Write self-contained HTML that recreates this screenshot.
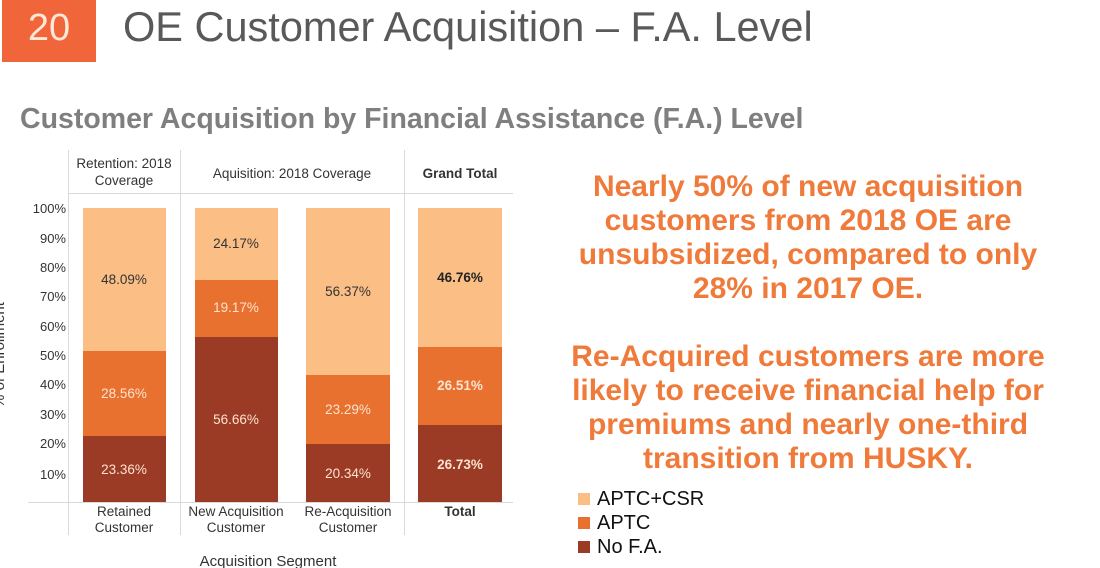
<!DOCTYPE html>
<html><head><meta charset="utf-8"><style>
body{margin:0;width:1100px;height:568px;background:#fff;position:relative;overflow:hidden;font-family:"Liberation Sans",sans-serif}
.a{position:absolute}
.rt{color:#f07a3a;font-weight:bold;font-size:30px;text-align:center;line-height:34px;left:558px;width:500px;white-space:nowrap}
</style></head><body>
<div class="a" style="left:2px;top:0;width:94px;height:62px;background:#f0653a;color:#fde8d8;font-size:38px;line-height:56px;text-align:center">20</div>
<div class="a" style="left:123px;top:2px;font-size:41.5px;color:#595959;line-height:50px">OE Customer Acquisition – F.A. Level</div>
<div class="a" style="left:20px;top:103px;font-size:28.5px;font-weight:bold;color:#7f7f7f">Customer Acquisition by Financial Assistance (F.A.) Level</div>
<svg class="a" style="left:0;top:0" width="560" height="568" font-family="Liberation Sans, sans-serif">
<g stroke="#d9d9d9" stroke-width="1">
<line x1="68.5" y1="150" x2="68.5" y2="535"/><line x1="180.5" y1="150" x2="180.5" y2="535"/><line x1="404.5" y1="150" x2="404.5" y2="535"/>
<line x1="68" y1="193.5" x2="513" y2="193.5"/><line x1="28" y1="502.5" x2="513" y2="502.5"/>
</g>
<g font-size="13.5" fill="#333" text-anchor="middle">
<text x="124" y="168">Retention: 2018</text><text x="124" y="185">Coverage</text>
<text x="292" y="178">Aquisition: 2018 Coverage</text>
<text x="460" y="178" font-weight="bold">Grand Total</text>
<text x="124" y="516">Retained</text><text x="124" y="532">Customer</text>
<text x="236" y="516">New Acquisition</text><text x="236" y="532">Customer</text>
<text x="348" y="516">Re-Acquisition</text><text x="348" y="532">Customer</text>
<text x="460" y="516" font-weight="bold">Total</text>
<text x="268" y="566" font-size="15">Acquisition Segment</text>
</g>
<g font-size="13" fill="#333" text-anchor="end">
<text x="66" y="213">100%</text><text x="66" y="243">90%</text><text x="66" y="272">80%</text><text x="66" y="301">70%</text><text x="66" y="331">60%</text><text x="66" y="360">50%</text><text x="66" y="389">40%</text><text x="66" y="419">30%</text><text x="66" y="448">20%</text><text x="66" y="479">10%</text>
</g>
<text transform="translate(4,355) rotate(-90)" font-size="15" fill="#333" text-anchor="middle">% of Enrollment</text>
<g>
<rect x="83" y="208" width="83" height="143" fill="#fbbf86"/><rect x="83" y="351" width="83" height="85" fill="#e8712f"/><rect x="83" y="436" width="83" height="66" fill="#9b3a25"/>
<rect x="195" y="208" width="83" height="72" fill="#fbbf86"/><rect x="195" y="280" width="83" height="57" fill="#e8712f"/><rect x="195" y="337" width="83" height="165" fill="#9b3a25"/>
<rect x="306" y="208" width="84" height="167" fill="#fbbf86"/><rect x="306" y="375" width="84" height="69" fill="#e8712f"/><rect x="306" y="444" width="84" height="58" fill="#9b3a25"/>
<rect x="418" y="208" width="84" height="139" fill="#fbbf86"/><rect x="418" y="347" width="84" height="78" fill="#e8712f"/><rect x="418" y="425" width="84" height="77" fill="#9b3a25"/>
</g>
<g font-size="13.5" text-anchor="middle">
<text x="124" y="284" fill="#333">48.09%</text><text x="124" y="398" fill="#fde3cf">28.56%</text><text x="124" y="474" fill="#fde3cf">23.36%</text>
<text x="236" y="248" fill="#333">24.17%</text><text x="236" y="312" fill="#fde3cf">19.17%</text><text x="236" y="424" fill="#fde3cf">56.66%</text>
<text x="348" y="296" fill="#333">56.37%</text><text x="348" y="414" fill="#fde3cf">23.29%</text><text x="348" y="478" fill="#fde3cf">20.34%</text>
<text x="460" y="282" fill="#222" font-weight="bold">46.76%</text><text x="460" y="390" fill="#fde3cf" font-weight="bold">26.51%</text><text x="460" y="469" fill="#fde3cf" font-weight="bold">26.73%</text>
</g>
</svg>
<div class="a rt" style="top:170px">Nearly 50% of new acquisition<br>customers from 2018 OE are<br>unsubsidized, compared to only<br>28% in 2017 OE.</div>
<div class="a rt" style="top:340px">Re-Acquired customers are more<br>likely to receive financial help for<br>premiums and nearly one-third<br>transition from HUSKY.</div>
<div class="a" style="left:578px;top:487px;font-size:20px;line-height:24px;color:#111">
<div><span style="display:inline-block;width:12px;height:12px;background:#fbbf86;margin-right:7px"></span>APTC+CSR</div>
<div><span style="display:inline-block;width:12px;height:12px;background:#e8712f;margin-right:7px"></span>APTC</div>
<div><span style="display:inline-block;width:12px;height:12px;background:#9b3a25;margin-right:7px"></span>No F.A.</div>
</div>
</body></html>
